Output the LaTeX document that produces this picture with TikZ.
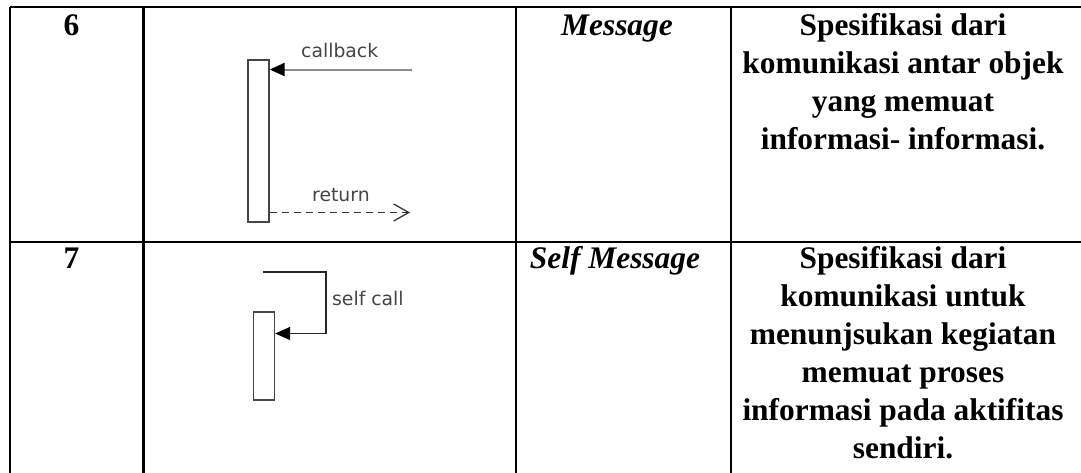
\documentclass[tikz,border=0pt]{standalone}
\usepackage{fontspec}
\setmainfont{Liberation Serif}
\newfontfamily\umlfont{DejaVu Sans}
\usetikzlibrary{arrows.meta}
\definecolor{umlgray}{HTML}{8C8C8C}
\definecolor{umldark}{HTML}{454545}
\begin{document}
\begin{tikzpicture}[x=1pt, y=-1pt,
	tbl/.style={line width=2.6pt, black},
	cell/.style={font=\fontsize{31.4}{38}\selectfont\bfseries, align=center, inner sep=0pt},
	lbl/.style={font=\umlfont\fontsize{18.8}{22}\selectfont, text=umldark, inner sep=0pt, anchor=base west},
	act/.style={draw=umldark, line width=1.3pt, fill=white, inner sep=0pt, minimum width=21pt},
	call/.style={umlgray, line width=2pt, -{Triangle[length=15pt, width=13pt, black]}},
	ret/.style={black!80, line width=1.3pt, dash pattern=on 7pt off 5pt, -{Straight Barb[length=15pt, width=17pt, line width=1.3pt]}},
	selfmsg/.style={black!85, line width=1.4pt, -{Triangle[length=15pt, width=13pt, black]}}]
		\clip (0,0) rectangle (1081,472);
		%draw table
		\draw [tbl] (10,7) -- (1090,7);
		\draw [tbl] (10,242) -- (1090,242);
		\foreach \colx in {10,143.5,516,731}
			\draw [tbl] (\colx,7) -- (\colx,480);
		%row 6
		\node [cell, anchor=base] (no6) at (71.5,35.5) {6};
		\node [cell, anchor=base] (sym6) at (617,35) {\itshape Message};
		\node [cell, anchor=north] (desc6) at (903,13.4) {Spesifikasi dari\\komunikasi antar objek\\yang memuat\\informasi- informasi.};
		\node [act, minimum height=162pt] (actA) at (258.5,141) {};
		\coordinate (cbA) at (411.5,69.5);
		\coordinate (retA) at (410,212.5);
		\draw [call] (cbA) -- (actA.east |- cbA);
		\draw [ret] (actA.east |- retA) -- (retA);
		\node [lbl] (cbAl) at (301,57) {callback};
		\node [lbl] (retAl) at (312,201) {return};
		%row 7
		\node [cell, anchor=base] (no7) at (71.5,268) {7};
		\node [cell, anchor=base] (sym7) at (615,268) {\itshape Self Message};
		\node [cell, anchor=north] (desc7) at (903,246.4) {Spesifikasi dari\\komunikasi untuk\\menunjsukan kegiatan\\memuat proses\\informasi pada aktifitas\\sendiri.};
		\node [act, minimum height=88pt] (actB) at (264,356) {};
		\coordinate (scS) at (263,272);
		\coordinate (scE) at (326,333.5);
		\draw [selfmsg] (scS) -| (scE) -- (actB.east |- scE);
		\node [lbl] (scl) at (332,305) {self call};
\end{tikzpicture}
\end{document}
